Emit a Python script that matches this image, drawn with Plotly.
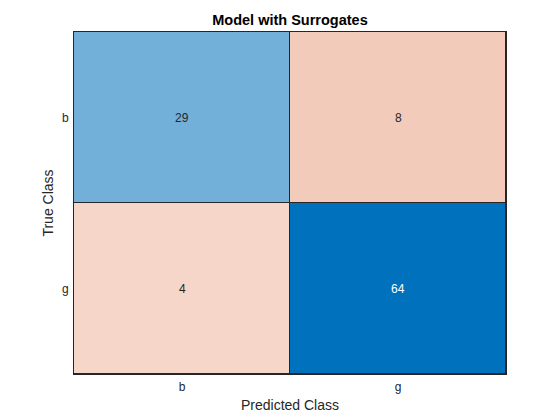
import plotly.graph_objects as go

classes = ["b", "g"]
counts = [[29, 8],
          [4, 64]]
title = "Model with Surrogates"

# diagonal and off-diagonal cells get their own colour ramps, like MATLAB's confusionchart
diag = [[v if i == j else None for j, v in enumerate(row)] for i, row in enumerate(counts)]
off = [[v if i != j else None for j, v in enumerate(row)] for i, row in enumerate(counts)]

blue_scale = [[0, "#ffffff"], [29 / 64, "#72afd9"], [1, "#0072bd"]]
red_scale = [[0, "#ffffff"], [0.5, "#f5d6c8"], [1, "#f3cbbb"]]

fig = go.Figure()
fig.add_trace(go.Heatmap(z=diag, x=classes, y=classes, colorscale=blue_scale,
                         zmin=0, zmax=64, showscale=False, xgap=1, ygap=1,
                         hoverinfo="skip"))
fig.add_trace(go.Heatmap(z=off, x=classes, y=classes, colorscale=red_scale,
                         zmin=0, zmax=8, showscale=False, xgap=1, ygap=1,
                         hoverinfo="skip"))

for i, row in enumerate(counts):
    for j, v in enumerate(row):
        fig.add_annotation(x=classes[j], y=classes[i], text=str(v), showarrow=False,
                           font=dict(size=12, color="white" if v > 40 else "#262626"))

font = "Liberation Sans, Arial, sans-serif"
fig.update_layout(
    width=560, height=420,
    margin=dict(l=66, r=62, t=24, b=54),
    paper_bgcolor="white", plot_bgcolor="#262626",
    font=dict(family=font, size=12, color="#262626"),
    title=dict(text="<b>" + title + "</b>", x=(66 + 498) / 2 / 560, xanchor="center",
               y=0.971, yanchor="middle", font=dict(size=14.5, color="#000000")),
)
fig.update_xaxes(title=dict(text="Predicted Class", font=dict(size=14), standoff=6),
                 automargin=False, showgrid=False, zeroline=False, ticks="",
                 showline=True, linecolor="#262626", linewidth=1, mirror=True,
                 ticklabelstandoff=2)
fig.update_yaxes(title=dict(text="True Class", font=dict(size=14), standoff=5),
                 automargin=False, autorange="reversed", showgrid=False,
                 zeroline=False, ticks="", showline=True, linecolor="#262626",
                 linewidth=1, mirror=True, ticklabelstandoff=2)

fig.write_html("out.html")
